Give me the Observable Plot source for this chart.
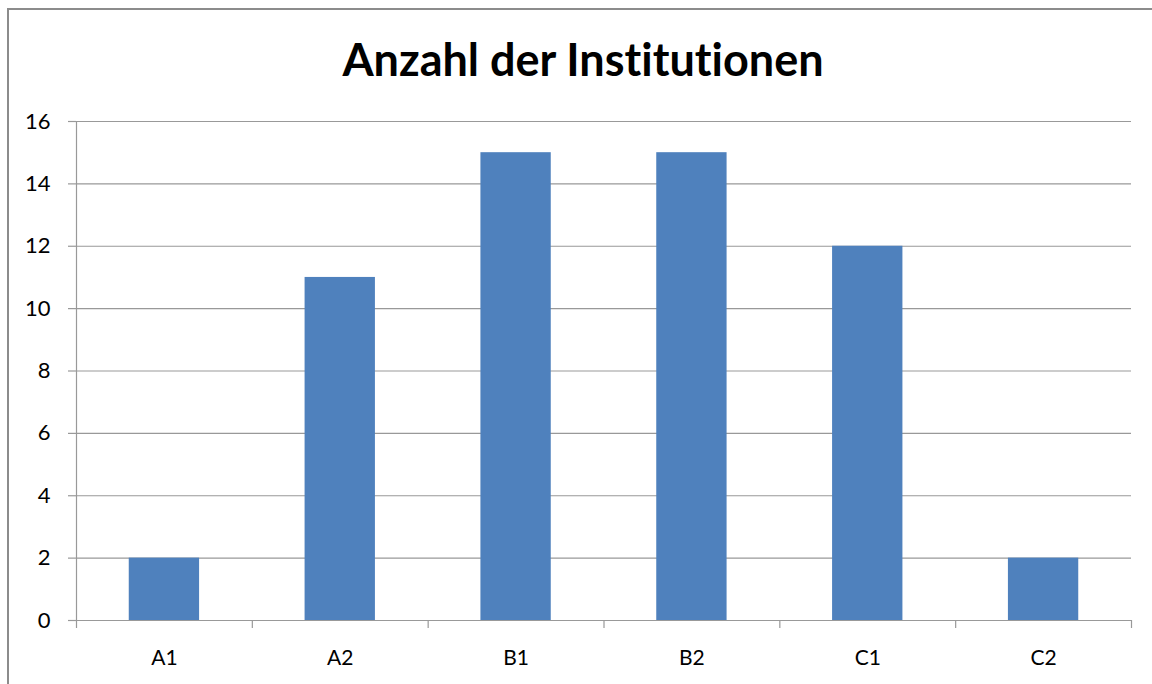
<!DOCTYPE html>
<html><head><meta charset="utf-8">
<script src="https://cdn.jsdelivr.net/npm/d3@7"></script>
<script src="https://cdn.jsdelivr.net/npm/@observablehq/plot@0.6"></script>
<style>
html,body{margin:0;padding:0;background:#fff;}
#wrap{position:relative;width:1152px;height:684px;overflow:hidden;font-family:Lato,"Open Sans",sans-serif;font-variant-ligatures:none;}
#frame{position:absolute;left:7px;top:8px;width:1200px;height:700px;border-left:2px solid #8c8c8c;border-top:2px solid #8c8c8c;box-sizing:border-box;}
#title{position:absolute;left:0;top:0;width:1166px;height:100px;text-align:center;font-weight:bold;font-size:45px;line-height:45px;padding-top:37px;box-sizing:border-box;color:#000;font-variant-ligatures:none;}
#chart{position:absolute;left:0;top:100px;}
#chart svg text{font-variant-ligatures:none;}
</style></head>
<body><div id="wrap"><div id="frame"></div><div id="title">Anzahl der Institutionen</div><div id="chart"></div></div>
<script>
const categories = ["A1","A2","B1","B2","C1","C2"];
const values = [2, 11, 15, 15, 12, 2];
const yTicks = [0,2,4,6,8,10,12,14,16];

const data = categories.map((c,i)=>({cat:c, value:values[i], i}));
const boundaries = d3.range(categories.length + 1);

const plot = Plot.plot({
  width: 1152,
  height: 584,
  marginTop: 21,
  marginBottom: 64,
  marginLeft: 76,
  marginRight: 21,
  style: {fontFamily: "Lato, 'Open Sans', sans-serif", fontSize: "22px", color: "#000", background: "transparent"},
  x: {type: "linear", domain: [0, categories.length], axis: null},
  y: {domain: [0, 16], axis: null},
  marks: [
    Plot.ruleY(yTicks, {stroke: "#999", strokeWidth: 1.2}),
    Plot.rectY(data, {x1: d => d.i + 0.3, x2: d => d.i + 0.7, y1: 0, y2: "value", fill: "#4F81BD"}),
    Plot.ruleX([0], {stroke: "#999", strokeWidth: 1.2}),
    Plot.axisY({ticks: yTicks, tickSize: 8, tickPadding: 18, stroke: "#999", strokeWidth: 1.2, tickFormat: d => String(d), fontSize: 22, fill: "#000", label: null}),
    Plot.axisX({ticks: boundaries, tickSize: 8, tickFormat: () => "", stroke: "#999", strokeWidth: 1.2, label: null}),
    Plot.text(data, {x: d => d.i + 0.5, y: 0, dy: 38, text: "cat", fontSize: 21, fill: "#000"})
  ]
});
document.getElementById("chart").appendChild(plot);
</script></body></html>
